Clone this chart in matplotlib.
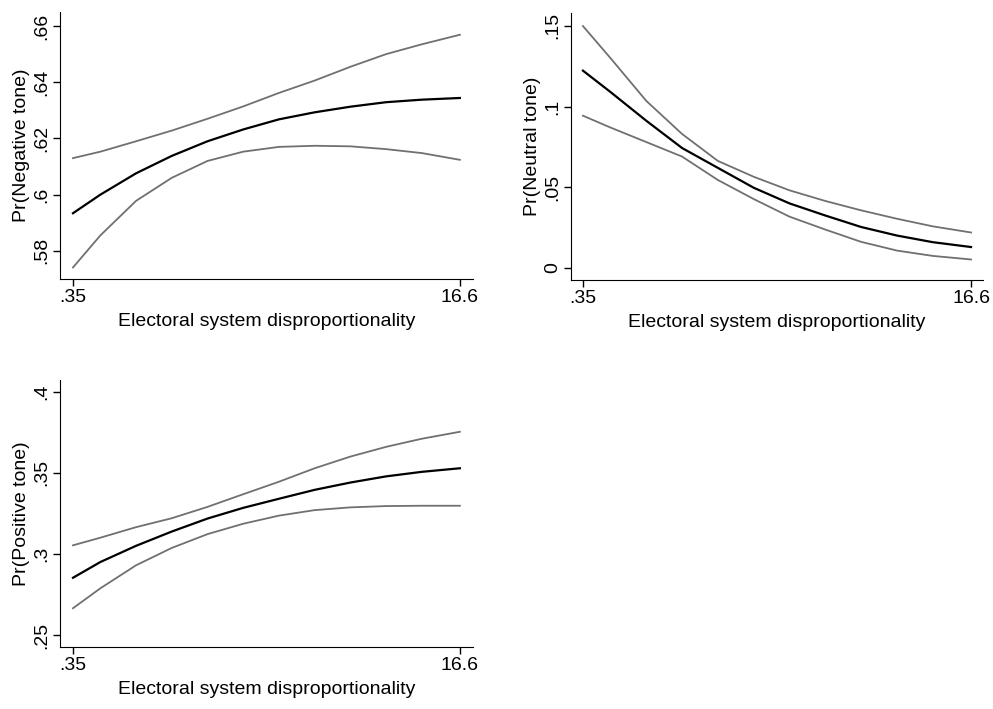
import matplotlib
matplotlib.use("Agg")
import matplotlib.pyplot as plt

plt.rcParams['font.family'] = ['Liberation Sans', 'DejaVu Sans']

# x values (electoral system disproportionality)
disprop = [0.35, 1.5, 3, 4.5, 6, 7.5, 9, 10.5, 12, 13.5, 15, 16.6]

# Pr(Negative tone)
neg_mid = [0.5934, 0.6000, 0.6076, 0.6138, 0.6190, 0.6232, 0.6268, 0.6293, 0.6313, 0.6329, 0.6338, 0.6344]
neg_hi = [0.6130, 0.6153, 0.6190, 0.6228, 0.6270, 0.6314, 0.6362, 0.6406, 0.6455, 0.6500, 0.6535, 0.6569]
neg_lo = [0.5741, 0.5855, 0.5978, 0.6060, 0.6120, 0.6153, 0.6170, 0.6174, 0.6172, 0.6162, 0.6148, 0.6124]

# Pr(Neutral tone)
neu_mid = [0.1222, 0.1090, 0.0912, 0.0743, 0.0620, 0.0497, 0.0400, 0.0325, 0.0254, 0.0201, 0.0160, 0.0130]
neu_hi = [0.1498, 0.1300, 0.1035, 0.0830, 0.0663, 0.0565, 0.0481, 0.0415, 0.0357, 0.0305, 0.0258, 0.0220]
neu_lo = [0.0943, 0.0870, 0.0780, 0.0690, 0.0545, 0.0427, 0.0318, 0.0238, 0.0162, 0.0108, 0.0075, 0.0053]

# Pr(Positive tone)
pos_mid = [0.2853, 0.2950, 0.3050, 0.3138, 0.3218, 0.3284, 0.3340, 0.3395, 0.3440, 0.3478, 0.3506, 0.3528]
pos_hi = [0.3053, 0.3100, 0.3165, 0.3220, 0.3290, 0.3368, 0.3445, 0.3528, 0.3600, 0.3660, 0.3710, 0.3753]
pos_lo = [0.2665, 0.2788, 0.2930, 0.3037, 0.3122, 0.3186, 0.3236, 0.3270, 0.3287, 0.3295, 0.3297, 0.3297]

panels = [
    ([0.0604, 0.6065, 0.4159, 0.3766], neg_mid, neg_hi, neg_lo, "Pr(Negative tone)",
     [0.58, 0.60, 0.62, 0.64, 0.66], [".58", ".6", ".62", ".64", ".66"],
     (-0.196, 17.15), (0.570, 0.665)),
    ([0.575, 0.6051, 0.4149, 0.3766], neu_mid, neu_hi, neu_lo, "Pr(Neutral tone)",
     [0, 0.05, 0.10, 0.15], ["0", ".05", ".1", ".15"],
     (-0.152, 17.10), (-0.0074, 0.1579)),
    ([0.0604, 0.0874, 0.4159, 0.3766], pos_mid, pos_hi, pos_lo, "Pr(Positive tone)",
     [0.25, 0.30, 0.35, 0.40], [".25", ".3", ".35", ".4"],
     (-0.196, 17.15), (0.2426, 0.4072)),
]

fig = plt.figure(figsize=(9.93, 7.09), dpi=100)
fs = 14
grey = "#707070"

for rect, mid, hi, lo, ylab, yt, ytl, xl, yl in panels:
    ax = fig.add_axes(rect)
    ax.plot(disprop, hi, color=grey, lw=1.3)
    ax.plot(disprop, lo, color=grey, lw=1.3)
    ax.plot(disprop, mid, color="black", lw=1.6)
    ax.set_xlim(*xl)
    ax.set_ylim(*yl)
    ax.set_xticks([0.35, 16.6])
    ax.set_xticklabels([".35", "16.6"], fontsize=fs)
    ax.set_yticks(yt)
    ax.set_yticklabels(ytl, fontsize=fs, rotation=90, va="center")
    ax.set_xlabel("Electoral system disproportionality", fontsize=fs, labelpad=5)
    ax.set_ylabel(ylab, fontsize=fs, labelpad=2)
    ax.spines["top"].set_visible(False)
    ax.spines["right"].set_visible(False)
    ax.tick_params(direction="out", length=5, width=1, pad=2)

fig.savefig("out.png", dpi=100, facecolor="white")
